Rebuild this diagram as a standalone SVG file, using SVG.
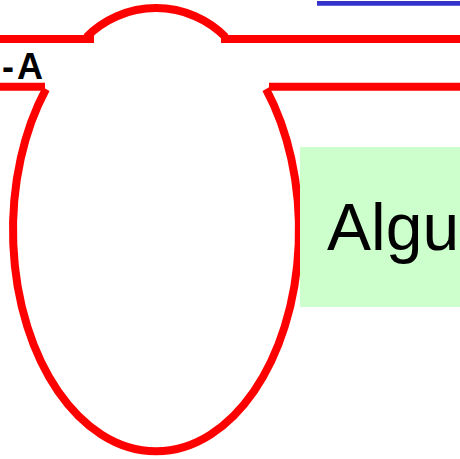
<svg xmlns="http://www.w3.org/2000/svg" width="460" height="459" viewBox="0 0 460 459">
  <style>
    .red { fill: none; stroke: #FF0000; stroke-width: 8; stroke-linecap: butt; }
    .lbl { font-family: "Comic Sans MS", "Liberation Sans", sans-serif; fill: #000000; }
  </style>
  <rect x="0" y="0" width="460" height="459" fill="#FFFFFF"/>
  <g id="top-line">
    <line class="red" x1="0" y1="39" x2="94" y2="39"/>
    <path class="red" d="M 86.5 37 A 98 98 0 0 1 225.5 37"/>
    <line class="red" x1="221" y1="39" x2="460" y2="39"/>
  </g>
  <g id="bottom-line">
    <line class="red" x1="0" y1="86.7" x2="45" y2="86.7"/>
    <path class="red" d="M 46 89 A 143 221 0 1 0 266 89"/>
    <line class="red" x1="269" y1="86.7" x2="460" y2="86.7"/>
  </g>
  <g id="blue-line">
    <line x1="317" y1="3.4" x2="460" y2="3.4" stroke="#3333CC" stroke-width="4.6"/>
  </g>
  <g id="label-a">
    <text class="lbl" x="2" y="79" font-size="36" font-weight="bold" letter-spacing="3">-A</text>
  </g>
  <g id="green-box">
    <rect x="300" y="147" width="160" height="160" fill="#CCFFCC"/>
    <text class="lbl" x="327" y="250" font-size="66">Algu</text>
  </g>
</svg>
